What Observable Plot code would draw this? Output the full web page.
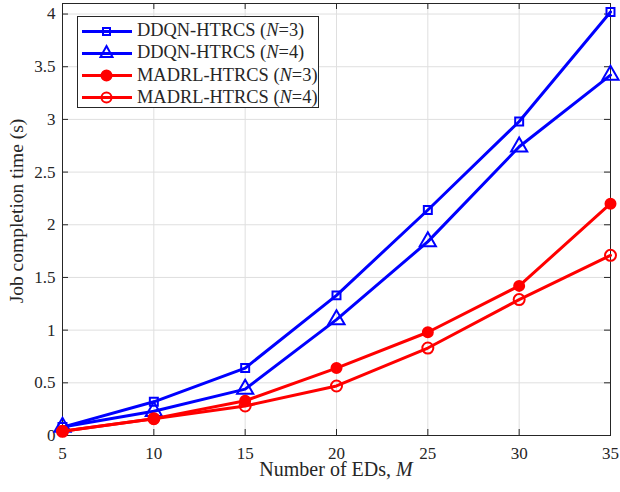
<!DOCTYPE html>
<html><head>
<meta charset="utf-8">
<script src="https://cdn.jsdelivr.net/npm/d3@7"></script>
<script src="https://cdn.jsdelivr.net/npm/@observablehq/plot@0.6"></script>
<style>
body{margin:0;background:#fff;}
#wrap{position:relative;width:620px;height:492px;font-family:"Liberation Serif","Times New Roman",serif;color:#262626;}
#legend{position:absolute;left:77px;top:16px;width:240px;height:90px;border:1px solid #262626;background:#fff;}
.row{position:absolute;left:0;height:22px;display:flex;align-items:center;font-size:18.4px;white-space:nowrap;}
.row svg{margin-left:4px;margin-right:5px;}
</style></head><body><div id="wrap"></div>
<script>
const M = [5, 10, 15, 20, 25, 30, 35];
const ddqnN3 = [0.08, 0.32, 0.64, 1.33, 2.14, 2.98, 4.02];
const ddqnN4 = [0.08, 0.23, 0.44, 1.10, 1.84, 2.74, 3.42];
const madrlN3 = [0.04, 0.16, 0.33, 0.64, 0.98, 1.42, 2.20];
const madrlN4 = [0.04, 0.16, 0.28, 0.47, 0.83, 1.29, 1.71];
const seriesNames = ["DDQN-HTRCS", "DDQN-HTRCS", "MADRL-HTRCS", "MADRL-HTRCS"];
const seriesN = [3, 4, 3, 4];
const xTicks = [5, 10, 15, 20, 25, 30, 35];
const yTicks = [0, 0.5, 1, 1.5, 2, 2.5, 3, 3.5, 4];

const styles = [
  {color: "#0000ff", symbol: "square", filled: false, r: 4.5},
  {color: "#0000ff", symbol: "triangle", filled: false, r: 6},
  {color: "#ff0000", symbol: "circle", filled: true, r: 5},
  {color: "#ff0000", symbol: "circle", filled: false, r: 5.5}
];
const allValues = [ddqnN3, ddqnN4, madrlN3, madrlN4];
const series = allValues.map((vals, k) => ({
  label: `${seriesNames[k]} (N=${seriesN[k]})`,
  ...styles[k],
  data: M.map((m, i) => ({m, v: vals[i]}))
}));

const W = 620, H = 492, mt = 3, mb = 57, ml = 62, mr = 10;
const ph = H - mt - mb, pw = W - ml - mr;
const tick = 6;

const marks = [
  Plot.gridX(xTicks, {stroke: "#dfdfdf", strokeOpacity: 1}),
  Plot.gridY(yTicks, {stroke: "#dfdfdf", strokeOpacity: 1}),
  Plot.tickX(xTicks, {x: d => d, stroke: "#262626", insetTop: ph - tick}),
  Plot.tickX(xTicks, {x: d => d, stroke: "#262626", insetBottom: ph - tick}),
  Plot.tickY(yTicks, {y: d => d, stroke: "#262626", insetRight: pw - tick}),
  Plot.tickY(yTicks, {y: d => d, stroke: "#262626", insetLeft: pw - tick}),
  Plot.axisX(xTicks, {tickSize: 0, tickPadding: 11, fontSize: 17, fill: "#262626", label: null}),
  Plot.axisY(yTicks, {tickSize: 0, tickPadding: 7, fontSize: 17, fill: "#262626", label: null, tickFormat: d => String(d)}),
  Plot.frame({stroke: "#262626", strokeWidth: 1})
];
for (const s of series) {
  marks.push(Plot.line(s.data, {x: "m", y: "v", stroke: s.color, strokeWidth: 3}));
  marks.push(Plot.dot(s.data, {x: "m", y: "v", symbol: () => s.symbol, r: s.r,
    stroke: s.color, strokeWidth: 2, fill: s.filled ? s.color : "none"}));
}

const chart = Plot.plot({
  width: W, height: H, marginTop: mt, marginBottom: mb, marginLeft: ml, marginRight: mr,
  style: {fontFamily: '"Liberation Serif","Times New Roman",serif', background: "#fff"},
  x: {domain: [5, 35]},
  y: {domain: [0, 4.1]},
  symbol: {type: "identity"},
  marks
});
const wrap = document.getElementById("wrap");
wrap.appendChild(chart);

// axis titles
const svg = d3.select(chart);
svg.append("text").attr("x", ml + pw / 2).attr("y", 476).attr("text-anchor", "middle")
  .attr("font-size", 20).attr("fill", "#262626")
  .html('Number of EDs, <tspan font-style="italic">M</tspan>');
svg.append("text").attr("transform", `translate(23,211) rotate(-90)`).attr("text-anchor", "middle")
  .attr("font-size", 19.5).attr("fill", "#262626").text("Job completion time (s)");

// legend
const leg = document.createElement("div");
leg.id = "legend";
series.forEach((s, k) => {
  const row = document.createElement("div");
  row.className = "row";
  row.style.top = (2.5 + k * 22.3) + "px";
  const sym = s.symbol === "square"
    ? `<rect x="21" y="8" width="7" height="7" fill="none" stroke="${s.color}" stroke-width="2"/>`
    : s.symbol === "triangle"
    ? `<path d="M24.5,4 L30.5,15 L18.5,15 Z" fill="none" stroke="${s.color}" stroke-width="2"/>`
    : `<circle cx="24.5" cy="11.5" r="5" fill="${s.filled ? s.color : "none"}" stroke="${s.color}" stroke-width="2"/>`;
  row.innerHTML = `<svg width="50" height="22"><line x1="0" y1="11.5" x2="50" y2="11.5" stroke="${s.color}" stroke-width="3"/>${sym}</svg>` +
    `<span>${seriesNames[k]} (<i>N</i>=${seriesN[k]})</span>`;
  leg.appendChild(row);
});
wrap.appendChild(leg);
</script>
</body></html>
